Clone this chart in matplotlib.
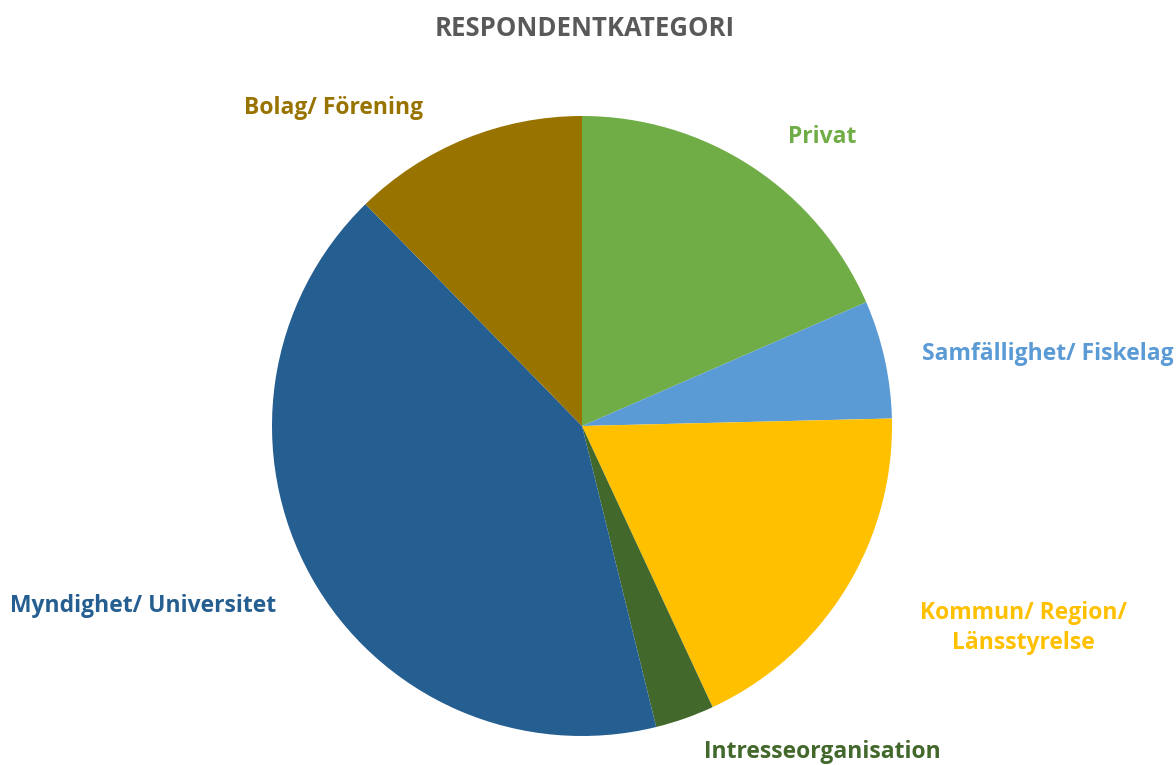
import numpy as np
import matplotlib.pyplot as plt

# respondent categories, clockwise from 12 o'clock
categories = ["Privat", "Samfällighet/ Fiskelag", "Kommun/ Region/\nLänsstyrelse",
              "Intresseorganisation", "Myndighet/ Universitet", "Bolag/ Förening"]
counts = [12, 4, 12, 2, 27, 8]
colors = ["#70AD47", "#5B9BD5", "#FFC000", "#43682B", "#255E91", "#997300"]

# label positions in pie units (radius = 1)
label_pos = [(0.774, 0.932), (1.503, 0.232), (1.423, -0.652),
             (0.774, -1.052), (-1.416, -0.581), (-0.800, 1.026)]

plt.rcParams['font.family'] = ['Open Sans', 'DejaVu Sans']

fig = plt.figure(figsize=(11.76, 7.65), dpi=100)
ax = fig.add_axes([0, 0, 1, 1])
ax.pie(counts, colors=colors, startangle=90, counterclock=False,
       wedgeprops=dict(linewidth=0))
ax.set_xlim(-582 / 310, (1176 - 582) / 310)
ax.set_ylim(-(765 - 426) / 310, 426 / 310)
ax.set_aspect('equal')
ax.axis('off')

for cat, col, (x, y) in zip(categories, colors, label_pos):
    ax.text(x, y, cat, color=col, fontsize=16.5, fontweight='bold',
            ha='center', va='center', linespacing=1.3)

fig.text(0.497, 1 - 28 / 765, "RESPONDENTKATEGORI", color="#595959",
         fontsize=18.5, fontweight='bold', ha='center', va='center')

fig.savefig("out.png", dpi=100)
